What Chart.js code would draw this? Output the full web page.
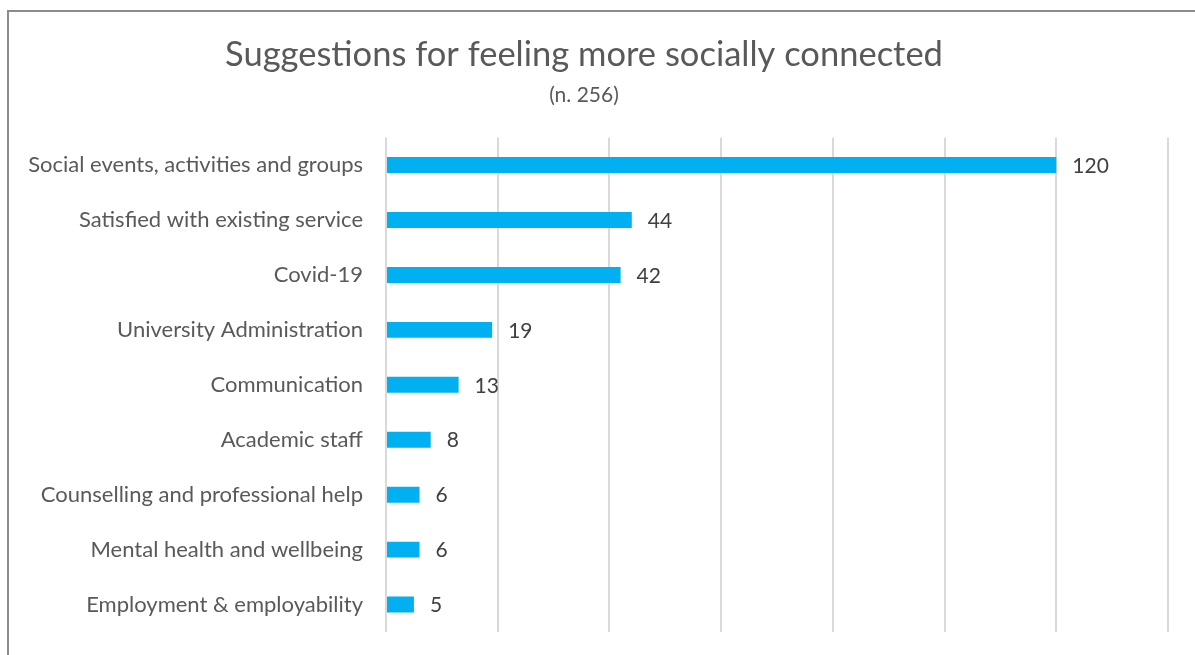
<!DOCTYPE html>
<html>
<head>
<meta charset="utf-8">
<script src="https://cdn.jsdelivr.net/npm/chart.js@4"></script>
<style>
html,body{margin:0;padding:0;background:#fff;overflow:hidden;}
#wrap{position:absolute;left:0;top:0;width:1195px;height:655px;}
#frame{position:absolute;left:7px;top:10px;width:1300px;height:700px;border:2px solid #8c8c8c;box-sizing:border-box;}
canvas{position:absolute;left:0;top:0;}
</style>
</head>
<body>
<div id="wrap">
<div id="frame"></div>
<canvas id="c" width="1195" height="655"></canvas>
</div>
<script>
const categories = [
  "Social events, activities and groups",
  "Satisfied with existing service",
  "Covid-19",
  "University Administration",
  "Communication",
  "Academic staff",
  "Counselling and professional help",
  "Mental health and wellbeing",
  "Employment & employability"
];
const counts = [120, 44, 42, 19, 13, 8, 6, 6, 5];
const titleText = "Suggestions for feeling more socially connected";
const subtitleText = "(n. 256)";

const FONT = "Lato, 'Open Sans', sans-serif";

const valueLabels = {
  id: 'valueLabels',
  afterDatasetsDraw(chart) {
    const ctx = chart.ctx;
    const meta = chart.getDatasetMeta(0);
    ctx.save();
    ctx.font = "21px " + FONT;
    ctx.fillStyle = "#404040";
    ctx.textAlign = "left";
    ctx.textBaseline = "middle";
    meta.data.forEach((bar, i) => {
      ctx.fillText(String(chart.data.datasets[0].data[i]), bar.x + 16, bar.y + 1);
    });
    ctx.restore();
  }
};

new Chart(document.getElementById('c'), {
  type: 'bar',
  data: {
    labels: categories,
    datasets: [{
      data: counts,
      backgroundColor: '#00B0F0',
      borderWidth: 0,
      categoryPercentage: 1.0,
      barPercentage: 0.29
    }]
  },
  options: {
    indexAxis: 'y',
    responsive: false,
    animation: false,
    devicePixelRatio: 1,
    layout: { padding: { left: 0, right: 27, top: 0, bottom: 23 } },
    plugins: {
      legend: { display: false },
      tooltip: { enabled: false },
      title: {
        display: true,
        text: titleText,
        color: '#595959',
        font: { family: FONT, size: 34.5, weight: 'normal', lineHeight: 1.2 },
        padding: { top: 34, bottom: 0 }
      },
      subtitle: {
        display: true,
        text: subtitleText,
        color: '#595959',
        font: { family: FONT, size: 21, weight: 'normal', lineHeight: 1.2 },
        padding: { top: 7, bottom: 30 }
      }
    },
    scales: {
      x: {
        min: 0,
        max: 140,
        ticks: { display: false, stepSize: 20 },
        grid: { color: '#d9d9d9', lineWidth: 2, drawTicks: false },
        border: { display: false },
        afterFit(scale) { scale.height = 0; scale.paddingLeft = 0; scale.paddingRight = 0; }
      },
      y: {
        grid: { display: false, drawTicks: false },
        border: { display: false },
        ticks: {
          color: '#595959',
          font: { family: FONT, size: 22 },
          padding: 23
        },
        afterFit(scale) { scale.width = 386; scale.paddingTop = 0; scale.paddingBottom = 0; }
      }
    }
  },
  plugins: [valueLabels]
});
</script>
</body>
</html>
